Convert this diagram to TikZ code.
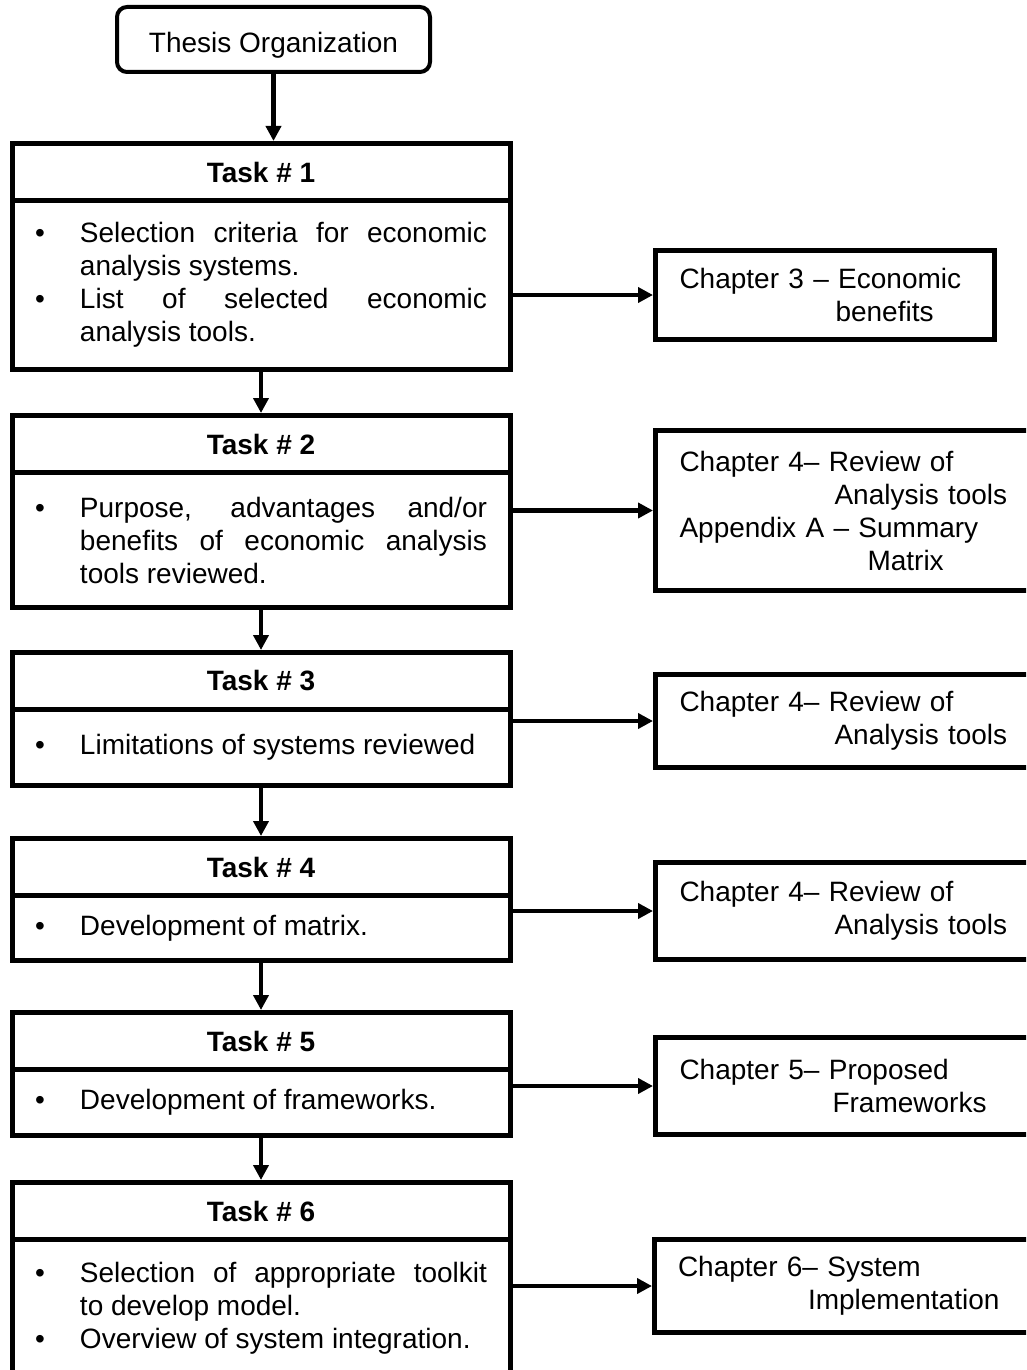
\documentclass[tikz,border=0pt]{standalone}
\usepackage{fontspec}
\setmainfont{Liberation Sans}
\usetikzlibrary{arrows.meta}

% bullet list set inside a task body: bullet hangs left of a justified block
\newcommand{\tasklist}[1]{\hspace*{68pt}\parbox{407pt}{\tolerance=10000\hyphenpenalty=10000\parskip=0pt\parindent=0pt\fontsize{28}{33}\selectfont #1}\hspace*{23pt}}
\newcommand{\titem}{\par\noindent\llap{\textbullet\hspace{35pt}}}

\begin{document}
\begin{tikzpicture}[x=1pt,y=-1pt,
  every node/.style={font=\fontsize{28}{33}\selectfont},
  boxline/.style={draw=black, line width=5pt},
  head/.style={boxline, minimum width=498pt, minimum height=57pt, inner sep=0pt,
               anchor=north, font=\fontsize{28}{33}\selectfont\bfseries},
  % the body shares its top edge with the bottom edge of the heading above it
  body/.style={boxline, minimum width=498pt, inner sep=0pt, anchor=north, yshift=5pt},
  chap/.style={boxline, anchor=north west, inner xsep=24pt, inner ysep=0pt, align=left},
  flow/.style={line width=4.5pt, -{Triangle[length=15pt,width=15pt]}},
]
\clip (0,0) rectangle (1026,1370);
\fill[white] (0,0) rectangle (1026,1370);

% title
\node[boxline, line width=4pt, rounded corners=10pt, minimum width=313pt,
      minimum height=65pt, text height=27pt, text depth=0pt] (thesis) at (273.5,39.5) {Thesis Organization};

% task 1
\node[head] (h1) at (261,141) {Task \# 1};
\node[body, minimum height=169pt] (b1) at (h1.south) {\tasklist{%
  \titem Selection criteria for economic analysis systems.
  \titem List of selected economic\linebreak analysis tools.}};

% task 2
\node[head] (h2) at (261,413) {Task \# 2};
\node[body, minimum height=135pt] (b2) at (h2.south) {\tasklist{%
  \titem Purpose, advantages and/or\linebreak benefits of economic analysis\linebreak tools reviewed.}};

% task 3
\node[head] (h3) at (261,650) {Task \# 3};
\node[body, minimum height=76pt] (b3) at (h3.south) {\tasklist{%
  \titem Limitations of systems reviewed}};

% task 4
\node[head] (h4) at (261,836) {Task \# 4};
\node[body, minimum height=65pt] (b4) at (h4.south) {\tasklist{%
  \titem Development of matrix.}};

% task 5
\node[head] (h5) at (261,1010) {Task \# 5};
\node[body, minimum height=66pt] (b5) at (h5.south) {\tasklist{%
  \titem Development of frameworks.}};

% task 6
\node[head] (h6) at (261,1180) {Task \# 6};
\node[body, minimum height=138pt] (b6) at (h6.south) {\tasklist{%
  \titem Selection of appropriate toolkit\linebreak to develop model.
  \titem Overview of system integration.}};

% chapters
\node[chap, minimum width=339pt, text width=291pt, minimum height=89pt] (c3) at (653,248)
  {Chapter 3 -- Economic\\\hspace*{156pt}benefits};
\node[chap, minimum width=390pt, text width=342pt, minimum height=160pt] (c4a) at (653,428)
  {Chapter 4-- Review of\\\hspace*{155pt}Analysis tools\\Appendix A -- Summary\\\hspace*{188pt}Matrix};
\node[chap, minimum width=390pt, text width=342pt, minimum height=93pt] (c4b) at (653,672)
  {Chapter 4-- Review of\\\hspace*{155pt}Analysis tools};
\node[chap, minimum width=390pt, text width=342pt, minimum height=97pt] (c4c) at (653,860)
  {Chapter 4-- Review of\\\hspace*{155pt}Analysis tools};
\node[chap, minimum width=390pt, text width=342pt, minimum height=97pt] (c5) at (653,1035)
  {Chapter 5-- Proposed\\\hspace*{153pt}Frameworks};
\node[chap, minimum width=390pt, text width=343pt, inner xsep=23pt, minimum height=93pt] (c6) at (652,1237)
  {Chapter 6-- System\\\hspace*{130pt}Implementation};

% flow downwards
\draw[flow] (thesis.south) -- (thesis.south |- h1.north);
\draw[flow] (b1.south) -- (h2.north);
\draw[flow] (b2.south) -- (h3.north);
\draw[flow] (b3.south) -- (h4.north);
\draw[flow] (b4.south) -- (h5.north);
\draw[flow] (b5.south) -- (h6.north);

% flow to chapters
\draw[flow] (b1.east |- c3.west) -- (c3.west);
\draw[flow] (b2.east |- c4a.west) -- (c4a.west);
\draw[flow] (b3.east |- c4b.west) -- (c4b.west);
\draw[flow] (b4.east |- c4c.west) -- (c4c.west);
\draw[flow] (b5.east |- c5.west) -- (c5.west);
\draw[flow] (b6.east |- c6.west) -- (c6.west);
\end{tikzpicture}
\end{document}
